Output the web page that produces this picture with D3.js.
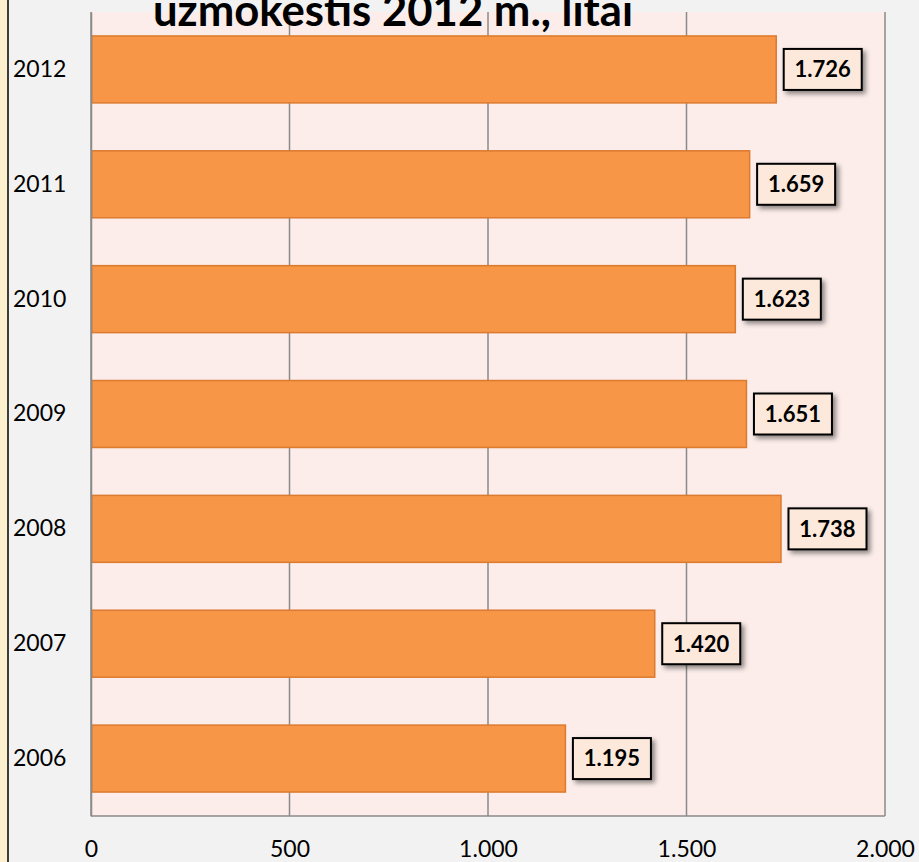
<!DOCTYPE html>
<html>
<head>
<meta charset="utf-8">
<script src="https://cdn.jsdelivr.net/npm/d3@7"></script>
<style>
  html, body { margin: 0; padding: 0; background: #f2f2f2; }
  svg { display: block; }
</style>
</head>
<body>
<div id="chart"></div>
<script>
const years = ["2006", "2007", "2008", "2009", "2010", "2011", "2012"];
const wages = [1195, 1420, 1738, 1651, 1623, 1659, 1726];
const xTicks = [0, 500, 1000, 1500, 2000];
const titleText = "užmokestis 2012 m., litai";

const width = 919, height = 862;
const plot = { left: 91, right: 885, top: 12, bottom: 816 };
const font = "Lato, 'Open Sans', sans-serif";

const lt = d3.formatLocale({ decimal: ",", thousands: ".", grouping: [3], currency: ["", ""] });
const fmt = lt.format(",d");

const svg = d3.select("#chart")
  .append("svg")
  .attr("width", width)
  .attr("height", height);

const defs = svg.append("defs");
defs.append("filter")
  .attr("id", "shadow")
  .attr("x", "-30%").attr("y", "-40%")
  .attr("width", "170%").attr("height", "200%")
  .append("feDropShadow")
  .attr("dx", 3).attr("dy", 3)
  .attr("stdDeviation", 2.5)
  .attr("flood-color", "#000")
  .attr("flood-opacity", 0.45);

// page background + left border strip
svg.append("rect").attr("width", width).attr("height", height).attr("fill", "#f2f2f2");
svg.append("rect").attr("x", 0).attr("y", 0).attr("width", 8).attr("height", height).attr("fill", "#fdf0cf");
svg.append("line")
  .attr("x1", 8).attr("x2", 8).attr("y1", 0).attr("y2", height)
  .attr("stroke", "#000").attr("stroke-width", 1.5);

const x = d3.scaleLinear().domain([0, 2000]).range([plot.left, plot.right]);
const y = d3.scaleBand()
  .domain(years.slice().reverse())
  .range([plot.top, plot.bottom])
  .paddingInner(0.417)
  .paddingOuter(0.2085);

// plot area
svg.append("rect")
  .attr("x", plot.left).attr("y", plot.top)
  .attr("width", plot.right - plot.left)
  .attr("height", plot.bottom - plot.top)
  .attr("fill", "#fcedea");

// vertical gridlines
svg.append("g")
  .selectAll("line")
  .data(xTicks)
  .join("line")
  .attr("x1", d => x(d)).attr("x2", d => x(d))
  .attr("y1", plot.top).attr("y2", plot.bottom)
  .attr("stroke", "#8a8a8a").attr("stroke-width", 1.5);

// bottom axis line
svg.append("line")
  .attr("x1", plot.left).attr("x2", plot.right)
  .attr("y1", plot.bottom).attr("y2", plot.bottom)
  .attr("stroke", "#8a8a8a").attr("stroke-width", 1.5);

// bars
const data = years.map((d, i) => ({ year: d, value: wages[i] }));

svg.append("g")
  .selectAll("rect")
  .data(data)
  .join("rect")
  .attr("x", x(0) + 0.75)
  .attr("y", d => y(d.year))
  .attr("width", d => x(d.value) - x(0) - 0.75)
  .attr("height", y.bandwidth())
  .attr("fill", "#f79646")
  .attr("stroke", "#dc7a30")
  .attr("stroke-width", 1.5);

// value labels
const labels = svg.append("g")
  .selectAll("g")
  .data(data)
  .join("g")
  .attr("transform", d => `translate(${x(d.value) + 7.5},${y(d.year) + y.bandwidth() / 2})`);

labels.append("rect")
  .attr("class", "box")
  .attr("fill", "#fde9db")
  .attr("stroke", "#000")
  .attr("stroke-width", 2)
  .attr("filter", "url(#shadow)");

labels.append("text")
  .attr("dy", "0.36em")
  .attr("font-family", font)
  .attr("font-weight", "bold")
  .attr("font-size", 22)
  .attr("fill", "#000")
  .text(d => fmt(d.value));

labels.each(function () {
  const g = d3.select(this);
  const t = g.select("text");
  const w = t.node().getComputedTextLength();
  const bw = Math.max(78, w + 19);
  t.attr("x", (bw - w) / 2);
  g.select("rect.box")
    .attr("x", 0).attr("y", -20.5)
    .attr("width", bw).attr("height", 41);
});

// y axis (years)
const yAxis = svg.append("g")
  .attr("transform", `translate(${plot.left},0)`)
  .call(d3.axisLeft(y).tickSize(0));
yAxis.select(".domain")
  .attr("stroke", "#8a8a8a").attr("stroke-width", 1.5);
yAxis.selectAll("text")
  .attr("x", 13 - plot.left)
  .attr("text-anchor", "start")
  .attr("font-family", font)
  .attr("font-size", 23)
  .attr("fill", "#000");

// x axis
const xAxis = svg.append("g")
  .attr("transform", `translate(0,${plot.bottom})`)
  .call(d3.axisBottom(x).tickValues(xTicks).tickFormat(fmt).tickSize(0).tickPadding(25));
xAxis.select(".domain").remove();
xAxis.selectAll("text")
  .attr("font-family", font)
  .attr("font-size", 23)
  .attr("fill", "#000");

// title (upper line falls outside the visible area)
svg.append("text")
  .attr("x", 393)
  .attr("y", 26)
  .attr("text-anchor", "middle")
  .attr("font-family", font)
  .attr("font-weight", "bold")
  .attr("font-size", 44)
  .attr("textLength", 480)
  .attr("lengthAdjust", "spacingAndGlyphs")
  .attr("fill", "#000")
  .text(titleText);
</script>
</body>
</html>
